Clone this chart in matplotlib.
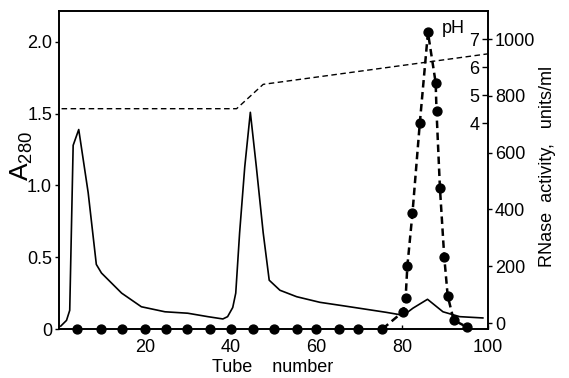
import matplotlib
matplotlib.use("Agg")
import matplotlib.pyplot as plt
from matplotlib import font_manager

# ---------------- data ----------------
a280_tube = [0.4, 1.75, 2.5, 3.3, 4.6, 6.8, 8.7, 9.9, 14.6, 19.2, 24.7, 30.0, 34.7,
             38.2, 39.3, 40.5, 41.2, 42.1, 43.3, 44.6, 46.0, 47.6, 49.0, 51.5, 55.4,
             60.8, 66.2, 71.7, 76.3, 79.4, 80.5, 82.5, 85.9, 89.5, 93.4, 98.8]
a280_val = [0.02, 0.06, 0.13, 1.28, 1.39, 0.95, 0.45, 0.39, 0.25, 0.155, 0.12, 0.11, 0.086,
            0.07, 0.086, 0.15, 0.25, 0.67, 1.13, 1.51, 1.13, 0.67, 0.34, 0.27, 0.225,
            0.186, 0.162, 0.137, 0.116, 0.10, 0.10, 0.145, 0.207, 0.12, 0.086, 0.077]

rnase_tube = [4.2, 9.7, 14.7, 20.0, 24.9, 29.9, 35.2, 40.2, 45.2, 50.1, 55.4, 60.0, 65.3,
              69.7, 75.4, 80.2, 80.8, 81.2, 82.4, 84.1, 86.0, 87.8, 88.0, 88.8, 89.8,
              90.6, 92.0, 95.2]
rnase_val = [-21, -21, -21, -21, -21, -21, -21, -21, -21, -21, -21, -21, -21,
             -21, -21, 40, 89, 200, 388, 703, 1023, 846, 746, 474, 233,
             96, 10, -15]
rnase_peak_start = 14

ph_tube = [0.6, 41.4, 47.6, 100.0]
ph_val = [4.52, 4.52, 5.39, 6.48]

x_ticks = [20, 40, 60, 80, 100]
a_ticks = [0, 0.5, 1.0, 1.5, 2.0]
a_ticklabels = ["0", "0.5", "1.0", "1.5", "2.0"]
r_ticks = [0, 200, 400, 600, 800, 1000]
ph_ticks = [4, 5, 6, 7]

# ---------------- fonts ----------------
names = {f.name for f in font_manager.fontManager.ttflist}
fam = "Liberation Sans" if "Liberation Sans" in names else "DejaVu Sans"
plt.rcParams["font.family"] = [fam, "DejaVu Sans"]
plt.rcParams["mathtext.default"] = "regular"

W, H = 569, 378
fig = plt.figure(figsize=(W / 100, H / 100), dpi=100)
L, R, T, B = 59, 488, 11, 329
ax = fig.add_axes([L / W, 1 - B / H, (R - L) / W, (B - T) / H])

ax.set_xlim(0, 100)
ax.set_ylim(0, 2.216)

ax.plot(a280_tube, a280_val, color="black", lw=1.2, solid_joinstyle="round")

# RNase axis
ax2 = ax.twinx()
ax2.set_ylim(-21.1, 1098.6)
ax2.plot(rnase_tube[rnase_peak_start:], rnase_val[rnase_peak_start:], color="black",
         lw=1.8, ls=(0, (3.0, 1.8)))
ax2.plot(rnase_tube, rnase_val, ls="none", marker="o", ms=6.4, color="black", clip_on=False)

# pH axis
ax3 = ax.twinx()
ax3.set_ylim(-3.35, 8.01)
ax3.plot(ph_tube, ph_val, color="black", lw=1.0, ls=(0, (4.0, 2.5)))
for s in ax3.spines.values():
    s.set_visible(False)

for a in (ax, ax2, ax3):
    a.set_xlim(0, 100)

for s in ax.spines.values():
    s.set_linewidth(1.2)
for s in ax2.spines.values():
    s.set_linewidth(1.2)

ax.set_xticks(x_ticks)
ax.set_xticklabels([str(v) for v in x_ticks])
ax.set_yticks(a_ticks)
ax.set_yticklabels(a_ticklabels)
ax.tick_params(axis="x", direction="in", length=3, width=1, pad=7, labelsize=13)
ax.tick_params(axis="y", direction="out", length=3, width=1, pad=2, labelsize=13)

ax2.set_yticks(r_ticks)
ax2.set_yticklabels([str(v) for v in r_ticks])
ax2.tick_params(axis="y", direction="out", length=3, width=1, pad=2, labelsize=13)

ax3.set_yticks(ph_ticks)
ax3.set_yticklabels([str(v) for v in ph_ticks])
ax3.tick_params(axis="y", direction="in", length=4, width=1, pad=-13.5, labelsize=13)

ax.text((465 - L) / (R - L), (B - 33) / (B - T), "pH", transform=ax.transAxes,
        ha="right", va="baseline", fontsize=13)

fig.text(272.5 / W, 1 - 368 / H, "Tube    number", ha="center", va="center", fontsize=13)
fig.text(547 / W, 1 - 166 / H, "RNase  activity,   units/ml", rotation=90,
         ha="center", va="center", fontsize=13)
fig.text(22 / W, 1 - 156 / H, "A$_{280}$", rotation=90, ha="center", va="center",
         fontsize=19)

fig.savefig("out.png", dpi=100)
